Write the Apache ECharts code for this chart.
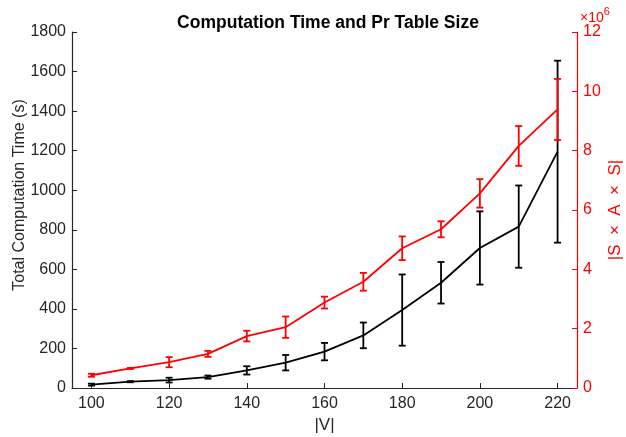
<!DOCTYPE html>
<html>
<head>
<meta charset="UTF-8">
<title>Computation Time and Pr Table Size</title>
<script src="https://cdn.jsdelivr.net/npm/echarts@6/dist/echarts.min.js"></script>
<style>
    html, body { margin: 0; padding: 0; background: #fff; }
    #main { width: 626px; height: 437px; }
</style>
</head>
<body>
<div id="main"></div>
<script>
    // |V|
    var vSizes = [100, 110, 120, 130, 140, 150, 160, 170, 180, 190, 200, 210, 220];
    // total computation time (s), mean and half error
    var timeMean = [17, 32, 40, 55, 89, 128, 184, 266, 394, 532, 708, 816, 1195];
    var timeErr = [5, 3, 12, 8, 21, 39, 44, 65, 180, 105, 185, 208, 460];
    // |S x A x S| in units of 1e6, mean and half error
    var tableMean = [0.43, 0.66, 0.87, 1.15, 1.75, 2.05, 2.88, 3.58, 4.71, 5.35, 6.56, 8.16, 9.39];
    var tableErr = [0.05, 0.02, 0.17, 0.1, 0.18, 0.36, 0.2, 0.3, 0.4, 0.27, 0.48, 0.67, 1.03];
    var xTicks = [100, 120, 140, 160, 180, 200, 220];

    var font = 'Liberation Sans, Helvetica, Arial, sans-serif';

    function lineData(means) {
        return vSizes.map(function (v, i) { return [v, means[i]]; });
    }
    function errData(means, errs) {
        return vSizes.map(function (v, i) { return [v, means[i] - errs[i], means[i] + errs[i]]; });
    }
    // 误差棒
    function errorBar(color) {
        return function (params, api) {
            var lo = api.coord([api.value(0), api.value(1)]);
            var hi = api.coord([api.value(0), api.value(2)]);
            var w = 3.5;
            var style = { stroke: color, lineWidth: 1.8 };
            return {
                type: 'group',
                children: [
                    { type: 'line', shape: { x1: lo[0], y1: lo[1], x2: hi[0], y2: hi[1] }, style: style },
                    { type: 'line', shape: { x1: lo[0] - w, y1: lo[1], x2: lo[0] + w, y2: lo[1] }, style: style },
                    { type: 'line', shape: { x1: hi[0] - w, y1: hi[1], x2: hi[0] + w, y2: hi[1] }, style: style }
                ]
            };
        };
    }
    function plain(v) { return String(v); }

    var myChart = echarts.init(document.getElementById('main'));
    var option = {
        animation: false,
        textStyle: { fontFamily: font },
        title: {
            text: 'Computation Time and Pr Table Size',
            left: 323, top: 9, textAlign: 'center',
            textStyle: { fontFamily: font, fontSize: 17.5, fontWeight: 'bold', color: '#000' }
        },
        grid: { left: 72, right: 49, top: 32, bottom: 49, outerBoundsMode: 'none', containLabel: false },
        xAxis: {
            type: 'value', min: 95, max: 225,
            name: '|V|', nameLocation: 'middle', nameGap: 27,
            nameTextStyle: { fontFamily: font, fontSize: 17, color: '#262626' },
            axisLine: { lineStyle: { color: '#262626', width: 1.2 } },
            axisTick: { inside: true, length: 5, customValues: xTicks, lineStyle: { color: '#262626' } },
            axisLabel: { customValues: xTicks, fontSize: 16, color: '#262626', margin: 8, formatter: plain },
            splitLine: { show: false }
        },
        yAxis: [
            {
                type: 'value', min: 0, max: 1800, interval: 200,
                name: 'Total Computation Time (s)', nameLocation: 'middle', nameGap: 44, nameRotate: 90,
                nameMoveOverlap: false,
                nameTextStyle: { fontFamily: font, fontSize: 16, color: '#262626', padding: [0, 0, 0, 30] },
                axisLine: { show: true, lineStyle: { color: '#262626', width: 1.2 } },
                axisTick: { show: true, inside: true, length: 5, lineStyle: { color: '#262626' } },
                axisLabel: { fontSize: 16, color: '#262626', margin: 6, formatter: plain },
                splitLine: { show: false }
            },
            {
                type: 'value', min: 0, max: 12, interval: 2, position: 'right',
                name: '|S  ×  A  ×  S|', nameLocation: 'middle', nameGap: 30, nameRotate: 90,
                nameMoveOverlap: false,
                nameTextStyle: { fontFamily: font, fontSize: 17, color: '#ff0000' },
                axisLine: { show: true, lineStyle: { color: '#ff0000', width: 1.2 } },
                axisTick: { show: true, inside: true, length: 5, lineStyle: { color: '#ff0000' } },
                axisLabel: { fontSize: 16, color: '#ff0000', margin: 6, formatter: plain },
                splitLine: { show: false }
            }
        ],
        graphic: [
            {
                type: 'text', left: 580, top: 6,
                style: {
                    text: '{a|×10}{b|6}',
                    rich: {
                        a: { fontFamily: font, fontSize: 14, fill: '#ff0000', padding: [5, 0, 0, 0] },
                        b: { fontFamily: font, fontSize: 11, fill: '#ff0000', verticalAlign: 'top' }
                    }
                }
            }
        ],
        series: [
            {
                name: 'time', type: 'line', yAxisIndex: 0, data: lineData(timeMean),
                showSymbol: false, lineStyle: { color: '#000', width: 1.8 }, z: 2
            },
            {
                name: 'time err', type: 'custom', yAxisIndex: 0, data: errData(timeMean, timeErr),
                renderItem: errorBar('#000'), z: 2
            },
            {
                name: 'table', type: 'line', yAxisIndex: 1, data: lineData(tableMean),
                showSymbol: false, lineStyle: { color: '#ff0000', width: 1.8 }, z: 3
            },
            {
                name: 'table err', type: 'custom', yAxisIndex: 1, data: errData(tableMean, tableErr),
                renderItem: errorBar('#ff0000'), z: 3
            }
        ]
    };
    myChart.setOption(option);
</script>
</body>
</html>
